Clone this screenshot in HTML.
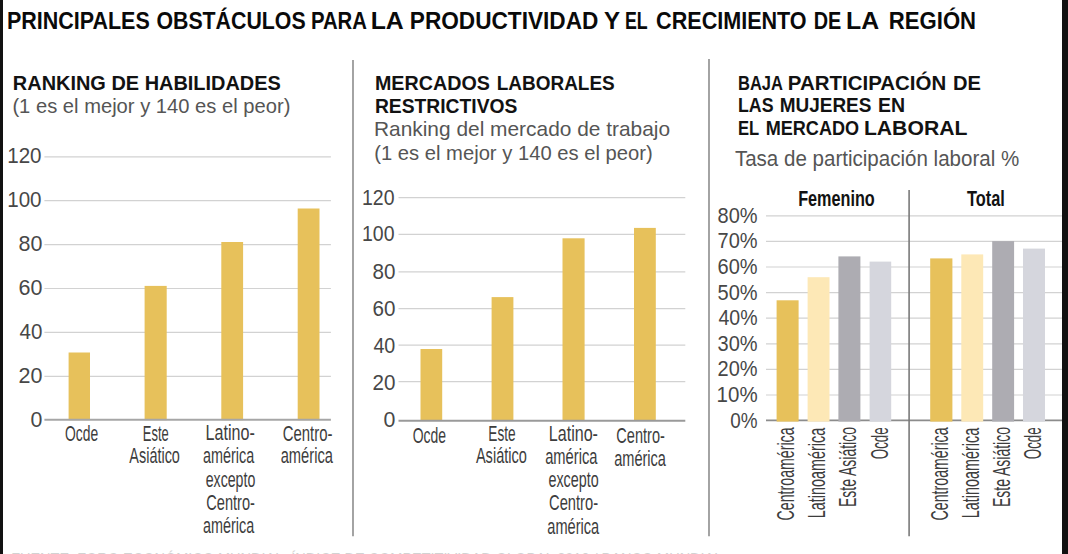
<!DOCTYPE html>
<html><head><meta charset="utf-8"><title>Principales obstáculos para la productividad</title>
<style>html,body{margin:0;padding:0;background:#fff;}svg{display:block;}text{font-family:"Liberation Sans", sans-serif;}</style>
</head><body>
<svg width="1068" height="554" viewBox="0 0 1068 554">
<rect width="1068" height="554" fill="#ffffff"/>
<line x1="44.40" y1="156.80" x2="330.90" y2="156.80" stroke="#d2d2d2" stroke-width="1.2"/>
<line x1="44.40" y1="200.70" x2="330.90" y2="200.70" stroke="#d2d2d2" stroke-width="1.2"/>
<line x1="44.40" y1="244.60" x2="330.90" y2="244.60" stroke="#d2d2d2" stroke-width="1.2"/>
<line x1="44.40" y1="288.50" x2="330.90" y2="288.50" stroke="#d2d2d2" stroke-width="1.2"/>
<line x1="44.40" y1="332.40" x2="330.90" y2="332.40" stroke="#d2d2d2" stroke-width="1.2"/>
<line x1="44.40" y1="376.30" x2="330.90" y2="376.30" stroke="#d2d2d2" stroke-width="1.2"/>
<line x1="398.50" y1="197.60" x2="685.30" y2="197.60" stroke="#d2d2d2" stroke-width="1.2"/>
<line x1="398.50" y1="234.40" x2="685.30" y2="234.40" stroke="#d2d2d2" stroke-width="1.2"/>
<line x1="398.50" y1="271.90" x2="685.30" y2="271.90" stroke="#d2d2d2" stroke-width="1.2"/>
<line x1="398.50" y1="308.70" x2="685.30" y2="308.70" stroke="#d2d2d2" stroke-width="1.2"/>
<line x1="398.50" y1="345.10" x2="685.30" y2="345.10" stroke="#d2d2d2" stroke-width="1.2"/>
<line x1="398.50" y1="381.70" x2="685.30" y2="381.70" stroke="#d2d2d2" stroke-width="1.2"/>
<line x1="766.00" y1="395.00" x2="1062.00" y2="395.00" stroke="#d2d2d2" stroke-width="1.2"/>
<line x1="766.00" y1="369.40" x2="1062.00" y2="369.40" stroke="#d2d2d2" stroke-width="1.2"/>
<line x1="766.00" y1="343.80" x2="1062.00" y2="343.80" stroke="#d2d2d2" stroke-width="1.2"/>
<line x1="766.00" y1="318.20" x2="1062.00" y2="318.20" stroke="#d2d2d2" stroke-width="1.2"/>
<line x1="766.00" y1="292.60" x2="1062.00" y2="292.60" stroke="#d2d2d2" stroke-width="1.2"/>
<line x1="766.00" y1="267.00" x2="1062.00" y2="267.00" stroke="#d2d2d2" stroke-width="1.2"/>
<line x1="766.00" y1="241.40" x2="1062.00" y2="241.40" stroke="#d2d2d2" stroke-width="1.2"/>
<line x1="766.00" y1="215.80" x2="1062.00" y2="215.80" stroke="#d2d2d2" stroke-width="1.2"/>
<rect x="68.60" y="352.50" width="21.40" height="67.70" fill="#E7C15B"/>
<rect x="144.60" y="285.90" width="22.10" height="134.30" fill="#E7C15B"/>
<rect x="221.30" y="242.00" width="21.80" height="178.20" fill="#E7C15B"/>
<rect x="297.70" y="208.50" width="21.80" height="211.70" fill="#E7C15B"/>
<rect x="420.50" y="349.00" width="21.70" height="71.50" fill="#E7C15B"/>
<rect x="491.60" y="297.10" width="21.80" height="123.40" fill="#E7C15B"/>
<rect x="562.50" y="238.30" width="22.10" height="182.20" fill="#E7C15B"/>
<rect x="634.00" y="227.90" width="21.80" height="192.60" fill="#E7C15B"/>
<line x1="766.00" y1="420.40" x2="1062.00" y2="420.40" stroke="#8c8c8c" stroke-width="1.8"/>
<rect x="776.60" y="300.30" width="22.00" height="121.30" fill="#E7C15B"/>
<rect x="807.60" y="277.20" width="21.90" height="144.40" fill="#FDE8B6"/>
<rect x="838.40" y="256.40" width="22.00" height="165.20" fill="#ADACB2"/>
<rect x="869.60" y="261.60" width="21.60" height="160.00" fill="#D5D6DD"/>
<rect x="930.20" y="258.40" width="22.20" height="163.20" fill="#E7C15B"/>
<rect x="961.30" y="254.40" width="21.90" height="167.20" fill="#FDE8B6"/>
<rect x="992.20" y="241.10" width="21.90" height="180.50" fill="#ADACB2"/>
<rect x="1023.00" y="248.60" width="22.00" height="173.00" fill="#D5D6DD"/>
<line x1="44.40" y1="419.80" x2="330.90" y2="419.80" stroke="#a6a6a6" stroke-width="2.0"/>
<line x1="398.50" y1="420.80" x2="685.30" y2="420.80" stroke="#9a9a9a" stroke-width="2.0"/>
<line x1="353.00" y1="60.00" x2="353.00" y2="536.30" stroke="#9a9a9a" stroke-width="1.8"/>
<line x1="709.00" y1="59.00" x2="709.00" y2="536.30" stroke="#9a9a9a" stroke-width="1.8"/>
<line x1="909.10" y1="190.00" x2="909.10" y2="536.30" stroke="#7a7a7a" stroke-width="1.6"/>
<rect x="0.00" y="0.00" width="3.00" height="554.00" fill="#111111"/>
<rect x="1062.00" y="0.00" width="6.00" height="554.00" fill="#111111"/>
<text x="7.03" y="29.10" font-size="24.2" font-weight="bold" fill="#0a0a0a" textLength="142.69" lengthAdjust="spacingAndGlyphs">PRINCIPALES</text>
<text x="156.42" y="29.10" font-size="24.2" font-weight="bold" fill="#0a0a0a" textLength="149.22" lengthAdjust="spacingAndGlyphs">OBSTÁCULOS</text>
<text x="310.92" y="29.10" font-size="24.2" font-weight="bold" fill="#0a0a0a" textLength="56.06" lengthAdjust="spacingAndGlyphs">PARA</text>
<text x="370.65" y="29.10" font-size="24.2" font-weight="bold" fill="#0a0a0a" textLength="33.06" lengthAdjust="spacingAndGlyphs">LA</text>
<text x="409.83" y="29.10" font-size="24.2" font-weight="bold" fill="#0a0a0a" textLength="188.53" lengthAdjust="spacingAndGlyphs">PRODUCTIVIDAD</text>
<text x="604.00" y="29.10" font-size="24.2" font-weight="bold" fill="#0a0a0a" textLength="16.07" lengthAdjust="spacingAndGlyphs">Y</text>
<text x="624.93" y="29.10" font-size="24.2" font-weight="bold" fill="#0a0a0a" textLength="22.71" lengthAdjust="spacingAndGlyphs">EL</text>
<text x="656.11" y="29.10" font-size="24.2" font-weight="bold" fill="#0a0a0a" textLength="150.53" lengthAdjust="spacingAndGlyphs">CRECIMIENTO</text>
<text x="813.66" y="29.10" font-size="24.2" font-weight="bold" fill="#0a0a0a" textLength="27.56" lengthAdjust="spacingAndGlyphs">DE</text>
<text x="846.05" y="29.10" font-size="24.2" font-weight="bold" fill="#0a0a0a" textLength="33.06" lengthAdjust="spacingAndGlyphs">LA</text>
<text x="888.87" y="29.10" font-size="24.2" font-weight="bold" fill="#0a0a0a" textLength="87.20" lengthAdjust="spacingAndGlyphs">REGIÓN</text>
<text x="12.85" y="90.10" font-size="21.1" font-weight="bold" fill="#121212" textLength="268.02" lengthAdjust="spacingAndGlyphs">RANKING DE HABILIDADES</text>
<text x="12.41" y="113.20" font-size="20.3" font-weight="normal" fill="#555555" textLength="277.95" lengthAdjust="spacingAndGlyphs">(1 es el mejor y 140 es el peor)</text>
<text x="374.97" y="89.70" font-size="21.1" font-weight="bold" fill="#121212" textLength="114.89" lengthAdjust="spacingAndGlyphs">MERCADOS</text>
<text x="496.70" y="89.70" font-size="21.1" font-weight="bold" fill="#121212" textLength="118.06" lengthAdjust="spacingAndGlyphs">LABORALES</text>
<text x="374.89" y="112.90" font-size="21.1" font-weight="bold" fill="#121212" textLength="142.53" lengthAdjust="spacingAndGlyphs">RESTRICTIVOS</text>
<text x="373.94" y="135.80" font-size="20.3" font-weight="normal" fill="#555555" textLength="296.18" lengthAdjust="spacingAndGlyphs">Ranking del mercado de trabajo</text>
<text x="374.20" y="159.80" font-size="20.3" font-weight="normal" fill="#555555" textLength="278.55" lengthAdjust="spacingAndGlyphs">(1 es el mejor y 140 es el peor)</text>
<text x="738.02" y="89.50" font-size="21.1" font-weight="bold" fill="#121212" textLength="44.93" lengthAdjust="spacingAndGlyphs">BAJA</text>
<text x="787.83" y="89.50" font-size="21.1" font-weight="bold" fill="#121212" textLength="158.41" lengthAdjust="spacingAndGlyphs">PARTICIPACIÓN</text>
<text x="952.95" y="89.50" font-size="21.1" font-weight="bold" fill="#121212" textLength="27.95" lengthAdjust="spacingAndGlyphs">DE</text>
<text x="737.96" y="112.40" font-size="21.1" font-weight="bold" fill="#121212" textLength="35.52" lengthAdjust="spacingAndGlyphs">LAS</text>
<text x="779.70" y="112.40" font-size="21.1" font-weight="bold" fill="#121212" textLength="91.74" lengthAdjust="spacingAndGlyphs">MUJERES</text>
<text x="878.08" y="112.40" font-size="21.1" font-weight="bold" fill="#121212" textLength="27.10" lengthAdjust="spacingAndGlyphs">EN</text>
<text x="738.01" y="135.10" font-size="21.1" font-weight="bold" fill="#121212" textLength="21.24" lengthAdjust="spacingAndGlyphs">EL</text>
<text x="765.74" y="135.10" font-size="21.1" font-weight="bold" fill="#121212" textLength="93.32" lengthAdjust="spacingAndGlyphs">MERCADO</text>
<text x="863.90" y="135.10" font-size="21.1" font-weight="bold" fill="#121212" textLength="103.52" lengthAdjust="spacingAndGlyphs">LABORAL</text>
<text x="734.90" y="166.00" font-size="22.0" font-weight="normal" fill="#555555" textLength="284.38" lengthAdjust="spacingAndGlyphs">Tasa de participación laboral %</text>
<text x="798.14" y="206.10" font-size="21.4" font-weight="bold" fill="#121212" textLength="76.64" lengthAdjust="spacingAndGlyphs">Femenino</text>
<text x="967.00" y="206.10" font-size="21.4" font-weight="bold" fill="#121212" textLength="37.86" lengthAdjust="spacingAndGlyphs">Total</text>
<text x="7.21" y="163.20" font-size="21.8" font-weight="normal" fill="#474747" textLength="34.34" lengthAdjust="spacingAndGlyphs">120</text>
<text x="7.21" y="207.10" font-size="21.8" font-weight="normal" fill="#474747" textLength="34.34" lengthAdjust="spacingAndGlyphs">100</text>
<text x="18.51" y="251.20" font-size="21.8" font-weight="normal" fill="#474747" textLength="23.92" lengthAdjust="spacingAndGlyphs">80</text>
<text x="18.51" y="295.10" font-size="21.8" font-weight="normal" fill="#474747" textLength="23.92" lengthAdjust="spacingAndGlyphs">60</text>
<text x="19.50" y="339.10" font-size="21.8" font-weight="normal" fill="#474747" textLength="22.88" lengthAdjust="spacingAndGlyphs">40</text>
<text x="18.51" y="382.80" font-size="21.8" font-weight="normal" fill="#474747" textLength="23.92" lengthAdjust="spacingAndGlyphs">20</text>
<text x="30.42" y="426.50" font-size="21.8" font-weight="normal" fill="#474747" textLength="11.88" lengthAdjust="spacingAndGlyphs">0</text>
<text x="362.01" y="204.90" font-size="21.8" font-weight="normal" fill="#474747" textLength="32.52" lengthAdjust="spacingAndGlyphs">120</text>
<text x="362.01" y="241.30" font-size="21.8" font-weight="normal" fill="#474747" textLength="32.52" lengthAdjust="spacingAndGlyphs">100</text>
<text x="372.45" y="278.90" font-size="21.8" font-weight="normal" fill="#474747" textLength="22.93" lengthAdjust="spacingAndGlyphs">80</text>
<text x="372.45" y="316.10" font-size="21.8" font-weight="normal" fill="#474747" textLength="22.93" lengthAdjust="spacingAndGlyphs">60</text>
<text x="373.40" y="352.90" font-size="21.8" font-weight="normal" fill="#474747" textLength="21.93" lengthAdjust="spacingAndGlyphs">40</text>
<text x="372.45" y="390.20" font-size="21.8" font-weight="normal" fill="#474747" textLength="22.93" lengthAdjust="spacingAndGlyphs">20</text>
<text x="383.42" y="427.20" font-size="21.8" font-weight="normal" fill="#474747" textLength="11.88" lengthAdjust="spacingAndGlyphs">0</text>
<text x="730.13" y="427.60" font-size="21.8" font-weight="normal" fill="#474747" textLength="27.31" lengthAdjust="spacingAndGlyphs">0%</text>
<text x="716.62" y="402.00" font-size="21.8" font-weight="normal" fill="#474747" textLength="40.98" lengthAdjust="spacingAndGlyphs">10%</text>
<text x="717.58" y="376.40" font-size="21.8" font-weight="normal" fill="#474747" textLength="40.00" lengthAdjust="spacingAndGlyphs">20%</text>
<text x="717.58" y="350.80" font-size="21.8" font-weight="normal" fill="#474747" textLength="40.00" lengthAdjust="spacingAndGlyphs">30%</text>
<text x="718.50" y="325.20" font-size="21.8" font-weight="normal" fill="#474747" textLength="39.07" lengthAdjust="spacingAndGlyphs">40%</text>
<text x="717.58" y="299.60" font-size="21.8" font-weight="normal" fill="#474747" textLength="40.00" lengthAdjust="spacingAndGlyphs">50%</text>
<text x="717.58" y="274.00" font-size="21.8" font-weight="normal" fill="#474747" textLength="40.00" lengthAdjust="spacingAndGlyphs">60%</text>
<text x="717.58" y="248.40" font-size="21.8" font-weight="normal" fill="#474747" textLength="40.00" lengthAdjust="spacingAndGlyphs">70%</text>
<text x="717.58" y="222.80" font-size="21.8" font-weight="normal" fill="#474747" textLength="40.00" lengthAdjust="spacingAndGlyphs">80%</text>
<text x="65.09" y="440.60" font-size="22.6" font-weight="normal" fill="#3d3d3d" textLength="33.14" lengthAdjust="spacingAndGlyphs">Ocde</text>
<text x="142.85" y="440.60" font-size="22.6" font-weight="normal" fill="#3d3d3d" textLength="25.95" lengthAdjust="spacingAndGlyphs">Este</text>
<text x="129.30" y="463.30" font-size="22.6" font-weight="normal" fill="#3d3d3d" textLength="50.62" lengthAdjust="spacingAndGlyphs">Asiático</text>
<text x="205.47" y="440.40" font-size="22.6" font-weight="normal" fill="#3d3d3d" textLength="49.31" lengthAdjust="spacingAndGlyphs">Latino-</text>
<text x="203.06" y="463.40" font-size="22.6" font-weight="normal" fill="#3d3d3d" textLength="51.17" lengthAdjust="spacingAndGlyphs">américa</text>
<text x="205.67" y="486.70" font-size="22.6" font-weight="normal" fill="#3d3d3d" textLength="49.64" lengthAdjust="spacingAndGlyphs">excepto</text>
<text x="206.25" y="510.20" font-size="22.6" font-weight="normal" fill="#3d3d3d" textLength="48.61" lengthAdjust="spacingAndGlyphs">Centro-</text>
<text x="203.06" y="533.00" font-size="22.6" font-weight="normal" fill="#3d3d3d" textLength="51.17" lengthAdjust="spacingAndGlyphs">américa</text>
<text x="282.74" y="440.60" font-size="22.6" font-weight="normal" fill="#3d3d3d" textLength="49.75" lengthAdjust="spacingAndGlyphs">Centro-</text>
<text x="280.65" y="463.20" font-size="22.6" font-weight="normal" fill="#3d3d3d" textLength="52.28" lengthAdjust="spacingAndGlyphs">américa</text>
<text x="412.78" y="443.40" font-size="22.6" font-weight="normal" fill="#3d3d3d" textLength="33.34" lengthAdjust="spacingAndGlyphs">Ocde</text>
<text x="488.29" y="440.60" font-size="22.6" font-weight="normal" fill="#3d3d3d" textLength="27.35" lengthAdjust="spacingAndGlyphs">Este</text>
<text x="475.90" y="463.00" font-size="22.6" font-weight="normal" fill="#3d3d3d" textLength="51.03" lengthAdjust="spacingAndGlyphs">Asiático</text>
<text x="548.78" y="440.60" font-size="22.6" font-weight="normal" fill="#3d3d3d" textLength="49.20" lengthAdjust="spacingAndGlyphs">Latino-</text>
<text x="545.15" y="463.80" font-size="22.6" font-weight="normal" fill="#3d3d3d" textLength="52.28" lengthAdjust="spacingAndGlyphs">américa</text>
<text x="548.47" y="487.10" font-size="22.6" font-weight="normal" fill="#3d3d3d" textLength="50.16" lengthAdjust="spacingAndGlyphs">excepto</text>
<text x="549.05" y="510.40" font-size="22.6" font-weight="normal" fill="#3d3d3d" textLength="49.03" lengthAdjust="spacingAndGlyphs">Centro-</text>
<text x="547.35" y="533.70" font-size="22.6" font-weight="normal" fill="#3d3d3d" textLength="51.88" lengthAdjust="spacingAndGlyphs">américa</text>
<text x="616.36" y="443.20" font-size="22.6" font-weight="normal" fill="#3d3d3d" textLength="48.51" lengthAdjust="spacingAndGlyphs">Centro-</text>
<text x="614.16" y="466.00" font-size="22.6" font-weight="normal" fill="#3d3d3d" textLength="51.78" lengthAdjust="spacingAndGlyphs">américa</text>
<text x="11.15" y="565.40" font-size="17.0" font-weight="normal" fill="#d2d2d2" textLength="711.19" lengthAdjust="spacingAndGlyphs">FUENTE: FORO ECONÓMICO MUNDIAL, ÍNDICE DE COMPETITIVIDAD GLOBAL 2019 / BANCO MUNDIAL</text>
<text transform="translate(793.90,520.41) rotate(-90)" x="0" y="0" font-size="23.2" font-weight="normal" fill="#3d3d3d" textLength="92.96" lengthAdjust="spacingAndGlyphs">Centroamérica</text>
<text transform="translate(824.80,518.24) rotate(-90)" x="0" y="0" font-size="23.2" font-weight="normal" fill="#3d3d3d" textLength="90.53" lengthAdjust="spacingAndGlyphs">Latinoamérica</text>
<text transform="translate(855.80,507.00) rotate(-90)" x="0" y="0" font-size="23.2" font-weight="normal" fill="#3d3d3d" textLength="79.97" lengthAdjust="spacingAndGlyphs">Este Asiático</text>
<text transform="translate(887.60,459.28) rotate(-90)" x="0" y="0" font-size="23.2" font-weight="normal" fill="#3d3d3d" textLength="32.02" lengthAdjust="spacingAndGlyphs">Ocde</text>
<text transform="translate(948.00,520.41) rotate(-90)" x="0" y="0" font-size="23.2" font-weight="normal" fill="#3d3d3d" textLength="92.96" lengthAdjust="spacingAndGlyphs">Centroamérica</text>
<text transform="translate(978.90,518.24) rotate(-90)" x="0" y="0" font-size="23.2" font-weight="normal" fill="#3d3d3d" textLength="90.53" lengthAdjust="spacingAndGlyphs">Latinoamérica</text>
<text transform="translate(1009.80,507.00) rotate(-90)" x="0" y="0" font-size="23.2" font-weight="normal" fill="#3d3d3d" textLength="79.97" lengthAdjust="spacingAndGlyphs">Este Asiático</text>
<text transform="translate(1040.70,459.28) rotate(-90)" x="0" y="0" font-size="23.2" font-weight="normal" fill="#3d3d3d" textLength="32.02" lengthAdjust="spacingAndGlyphs">Ocde</text>
</svg>
</body></html>
